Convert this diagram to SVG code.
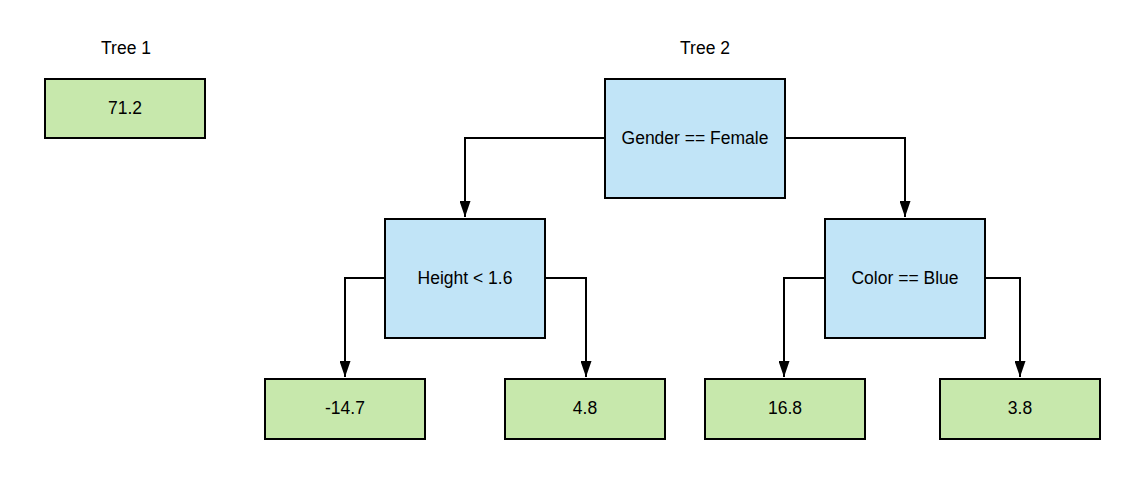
<svg xmlns="http://www.w3.org/2000/svg" width="1129" height="477" viewBox="0 0 1129 477">
<style>
.leaf{fill:#c7e8ac;stroke:#000;stroke-width:2}
.split{fill:#c1e4f7;stroke:#000;stroke-width:2}
.t{font-family:"Liberation Sans",Arial,sans-serif;font-size:17.5px;fill:#000;text-anchor:middle;dominant-baseline:central}
.c{fill:none;stroke:#000;stroke-width:2}
</style>
<defs>
<marker id="arr" viewBox="0 0 16 11" refX="16" refY="5.5" markerWidth="16" markerHeight="11" markerUnits="userSpaceOnUse" orient="auto">
<path d="M0,0 L16,5.5 L0,11 Z" fill="#000"/>
</marker>
</defs>
<rect width="1129" height="477" fill="#fff"/>
<text class="t" x="126" y="48">Tree 1</text>
<text class="t" x="705" y="48">Tree 2</text>
<g id="connectors">
<path class="c" d="M605,138 H465 V217" marker-end="url(#arr)"/>
<path class="c" d="M785,138 H905 V217" marker-end="url(#arr)"/>
<path class="c" d="M385,278 H345 V377" marker-end="url(#arr)"/>
<path class="c" d="M545,278 H586 V377" marker-end="url(#arr)"/>
<path class="c" d="M825,278 H784 V377" marker-end="url(#arr)"/>
<path class="c" d="M985,278 H1020 V377" marker-end="url(#arr)"/>
</g>
<g id="tree1-root"><rect class="leaf" x="45" y="79" width="160" height="59"/><text class="t" x="125" y="108">71.2</text></g>
<g id="gender"><rect class="split" x="605" y="79" width="180" height="119"/><text class="t" x="695" y="138">Gender == Female</text></g>
<g id="height"><rect class="split" x="385" y="219" width="160" height="119"/><text class="t" x="465" y="278">Height &lt; 1.6</text></g>
<g id="color"><rect class="split" x="825" y="219" width="160" height="119"/><text class="t" x="905" y="278">Color == Blue</text></g>
<g id="leaf-m147"><rect class="leaf" x="265" y="379" width="160" height="60"/><text class="t" x="345" y="408">-14.7</text></g>
<g id="leaf-48"><rect class="leaf" x="505" y="379" width="160" height="60"/><text class="t" x="585" y="408">4.8</text></g>
<g id="leaf-168"><rect class="leaf" x="705" y="379" width="160" height="60"/><text class="t" x="785" y="408">16.8</text></g>
<g id="leaf-38"><rect class="leaf" x="940" y="379" width="160" height="60"/><text class="t" x="1020" y="408">3.8</text></g>
</svg>
